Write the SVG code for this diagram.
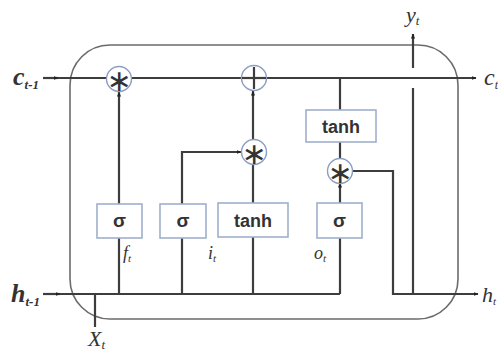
<svg xmlns="http://www.w3.org/2000/svg" width="498" height="353" viewBox="0 0 498 353">
<style>
.ln{fill:none;stroke:#3d3d3d;stroke-width:2.2}
.outer{fill:none;stroke:#6b6b6b;stroke-width:1.6}
.box{fill:#fff;stroke:#9fb0cc;stroke-width:1.6}
.circ{fill:#fff;stroke:#8c9dc2;stroke-width:1.4}
.bt{font-family:"Liberation Sans",Arial,sans-serif;font-weight:bold;fill:#333;text-anchor:middle}
.lab{font-family:"Liberation Serif","Times New Roman",serif;font-style:italic;fill:#333}
.op{font-family:"DejaVu Sans",sans-serif;fill:#333;text-anchor:middle}
</style>
<defs>
<marker id="ah" viewBox="0 0 10 10" refX="9" refY="5" markerWidth="5" markerHeight="5" orient="auto" markerUnits="userSpaceOnUse">
<path d="M0,1 L10,5 L0,9 z" fill="#222"/>
</marker>
</defs>
<rect class="outer" x="70" y="45" width="388" height="274" rx="40" ry="40"/>
<g id="connectors">
<line class="ln" x1="43" y1="78" x2="58" y2="78" marker-end="url(#ah)"/>
<line class="ln" x1="58" y1="78" x2="476" y2="78" marker-end="url(#ah)"/>
<line class="ln" x1="43" y1="294" x2="60" y2="294" marker-end="url(#ah)"/>
<line class="ln" x1="60" y1="294" x2="340" y2="294"/>
<line class="ln" x1="95" y1="294" x2="95" y2="327"/>
<line class="ln" x1="119" y1="294" x2="119" y2="238"/>
<line class="ln" x1="119" y1="204" x2="119" y2="92" marker-end="url(#ah)"/>
<polyline class="ln" points="182,294 182,152 241,152" marker-end="url(#ah)"/>
<line class="ln" x1="253" y1="294" x2="253" y2="237"/>
<line class="ln" x1="253" y1="203" x2="253" y2="164"/>
<line class="ln" x1="253" y1="140" x2="253" y2="91" marker-end="url(#ah)"/>
<line class="ln" x1="340" y1="78" x2="340" y2="110"/>
<line class="ln" x1="340" y1="142" x2="340" y2="159"/>
<line class="ln" x1="340" y1="294" x2="340" y2="238"/>
<line class="ln" x1="340" y1="203" x2="340" y2="183" marker-end="url(#ah)"/>
<polyline class="ln" points="352,171 393,171 393,294 478,294" marker-end="url(#ah)"/>
<line class="ln" x1="413" y1="294" x2="413" y2="88"/>
<line class="ln" x1="413" y1="68" x2="413" y2="34" marker-end="url(#ah)"/>
</g>
<g id="mul_f">
<circle class="circ" cx="119" cy="79" r="12.5"/>
<text class="op" x="119" y="91" font-size="30">∗</text>
</g>
<g id="add_c">
<circle class="circ" cx="254" cy="78" r="12.5"/>
<line class="ln" x1="254" y1="67" x2="254" y2="89"/>
<line class="ln" x1="242" y1="78" x2="266" y2="78"/>
</g>
<g id="mul_i">
<circle class="circ" cx="254" cy="152" r="12.5"/>
<text class="op" x="254" y="164" font-size="30">∗</text>
</g>
<g id="mul_o">
<circle class="circ" cx="340" cy="171" r="12.5"/>
<text class="op" x="340" y="183" font-size="30">∗</text>
</g>
<g id="sig_f">
<rect class="box" x="97" y="204" width="45" height="34"/>
<text class="bt" x="119.5" y="227" font-size="19">σ</text>
</g>
<g id="sig_i">
<rect class="box" x="160" y="204" width="46" height="34"/>
<text class="bt" x="183" y="227" font-size="19">σ</text>
</g>
<g id="tanh_g">
<rect class="box" x="218" y="203" width="70" height="34"/>
<text class="bt" x="253" y="227" font-size="18">tanh</text>
</g>
<g id="sig_o">
<rect class="box" x="317" y="203" width="45" height="35"/>
<text class="bt" x="339.5" y="227" font-size="19">σ</text>
</g>
<g id="tanh_c">
<rect class="box" x="306" y="110" width="70" height="32"/>
<text class="bt" x="341" y="133" font-size="18">tanh</text>
</g>
<g id="labels">
<text class="lab" x="13" y="85" font-size="26" font-weight="bold">c<tspan font-size="13" dy="4">t-1</tspan></text>
<text class="lab" x="484" y="85" font-size="24">c<tspan font-size="12" dy="4">t</tspan></text>
<text class="lab" x="11" y="302" font-size="26" font-weight="bold">h<tspan font-size="13" dy="4">t-1</tspan></text>
<text class="lab" x="482" y="302" font-size="22">h<tspan font-size="11" dy="3">t</tspan></text>
<text class="lab" x="88" y="346" font-size="22">X<tspan font-size="13" dy="3">t</tspan></text>
<text class="lab" x="406" y="22" font-size="22">y<tspan font-size="13" dy="3">t</tspan></text>
<text class="lab" x="123" y="259" font-size="18">f<tspan font-size="11" dy="3">t</tspan></text>
<text class="lab" x="208" y="259" font-size="18">i<tspan font-size="11" dy="3">t</tspan></text>
<text class="lab" x="314" y="259" font-size="18">o<tspan font-size="11" dy="3">t</tspan></text>
</g>
</svg>
